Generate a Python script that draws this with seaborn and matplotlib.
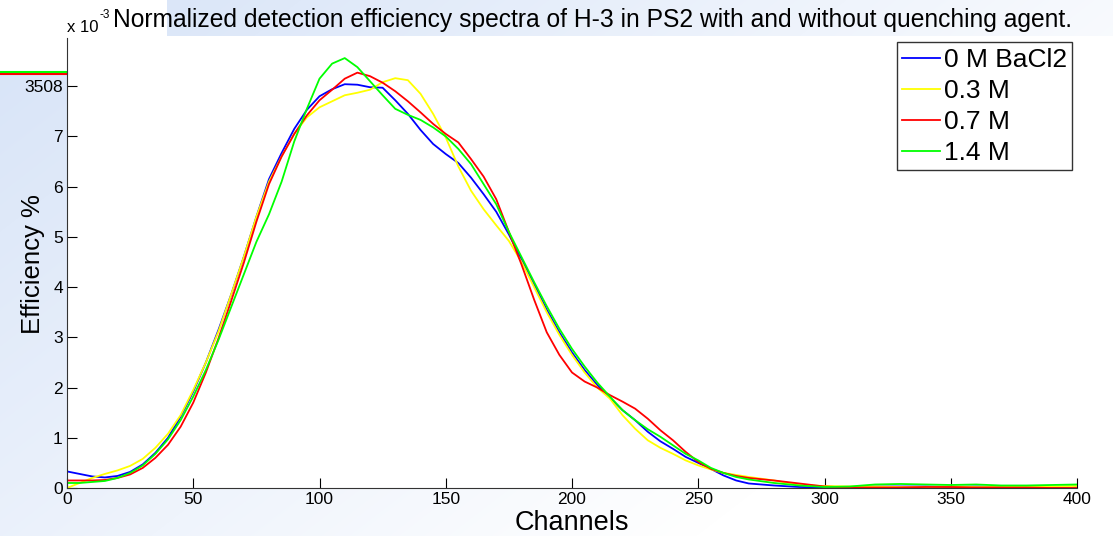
import matplotlib
matplotlib.use("Agg")
import matplotlib.pyplot as plt
import seaborn as sns
import numpy as np
import pandas as pd

# channel grid shared by all four spectra
channels = [0, 5, 10, 15, 20, 25, 30, 35, 40, 45, 50, 55, 60, 65, 70, 75, 80, 85, 90, 95,
            100, 105, 110, 115, 120, 125, 130, 135, 140, 145, 150, 155, 160, 165, 170, 175,
            180, 185, 190, 195, 200, 205, 210, 215, 220, 225, 230, 235, 240, 245, 250, 255,
            260, 265, 270, 280, 290, 300, 310, 320, 330, 340, 350, 360, 370, 380, 390, 400]

eff_0M = [0.33, 0.28, 0.23, 0.21, 0.24, 0.32, 0.47, 0.70, 1.00, 1.42, 1.92, 2.50, 3.15, 3.85,
          4.60, 5.40, 6.15, 6.67, 7.15, 7.53, 7.80, 7.94, 8.04, 8.03, 7.98, 7.97, 7.72, 7.45,
          7.13, 6.85, 6.65, 6.47, 6.18, 5.85, 5.50, 5.05, 4.55, 4.05, 3.55, 3.10, 2.70, 2.35,
          2.05, 1.80, 1.55, 1.35, 1.12, 0.93, 0.78, 0.62, 0.50, 0.38, 0.25, 0.15, 0.09, 0.05,
          0.02, 0.01, 0.02, 0.03, 0.03, 0.03, 0.02, 0.03, 0.02, 0.04, 0.02, 0.03]

eff_03M = [0.00, 0.10, 0.20, 0.28, 0.35, 0.44, 0.58, 0.80, 1.08, 1.45, 1.95, 2.50, 3.12, 3.85,
           4.60, 5.40, 6.10, 6.60, 7.05, 7.38, 7.58, 7.70, 7.82, 7.87, 7.93, 8.08, 8.16, 8.12,
           7.85, 7.45, 6.98, 6.40, 5.92, 5.55, 5.23, 4.92, 4.50, 4.00, 3.50, 3.05, 2.65, 2.30,
           2.00, 1.78, 1.45, 1.18, 0.95, 0.80, 0.68, 0.55, 0.45, 0.37, 0.30, 0.26, 0.22, 0.15,
           0.06, 0.04, 0.03, 0.03, 0.02, 0.02, 0.03, 0.02, 0.02, 0.03, 0.03, 0.04]

eff_07M = [0.15, 0.15, 0.15, 0.16, 0.20, 0.27, 0.40, 0.60, 0.86, 1.22, 1.70, 2.30, 2.98, 3.72,
           4.48, 5.30, 6.05, 6.60, 7.05, 7.42, 7.72, 7.93, 8.15, 8.27, 8.20, 8.07, 7.90, 7.70,
           7.48, 7.25, 7.05, 6.88, 6.55, 6.20, 5.75, 5.10, 4.45, 3.75, 3.10, 2.65, 2.30, 2.12,
           2.00, 1.85, 1.72, 1.58, 1.38, 1.15, 0.95, 0.72, 0.52, 0.38, 0.30, 0.24, 0.20, 0.15,
           0.09, 0.03, 0.01, 0.01, 0.01, 0.02, 0.02, 0.01, 0.01, 0.01, 0.00, 0.00]

eff_14M = [0.10, 0.10, 0.12, 0.14, 0.20, 0.30, 0.45, 0.68, 0.97, 1.35, 1.82, 2.35, 2.95, 3.60,
           4.25, 4.90, 5.45, 6.10, 6.90, 7.55, 8.15, 8.45, 8.56, 8.38, 8.10, 7.82, 7.55, 7.43,
           7.33, 7.18, 7.00, 6.75, 6.45, 6.05, 5.65, 5.10, 4.60, 4.10, 3.62, 3.17, 2.77, 2.42,
           2.10, 1.82, 1.55, 1.35, 1.17, 1.02, 0.85, 0.68, 0.55, 0.40, 0.30, 0.22, 0.17, 0.10,
           0.05, 0.02, 0.03, 0.07, 0.08, 0.07, 0.06, 0.07, 0.05, 0.05, 0.06, 0.07]

labels = ["0 M BaCl2", "0.3 M", "0.7 M", "1.4 M"]
colors = ["#0000ff", "#ffff00", "#ff0000", "#00ff00"]

# stray segment left of the axes in the original figure
stray_x = [-26.5, 0]
stray_red = [8.24, 8.24]
stray_green = [8.29, 8.29]

yticks = [0, 1, 2, 3, 4, 5, 6, 7, 8]
ytick_labels = ["0", "1", "2", "3", "4", "5", "6", "7", "3508"]
xticks = [0, 50, 100, 150, 200, 250, 300, 350, 400]

df = pd.concat([
    pd.DataFrame({"Channels": channels, "Efficiency": vals, "series": lab})
    for vals, lab in zip([eff_0M, eff_03M, eff_07M, eff_14M], labels)
])

plt.rcParams["font.family"] = ["Liberation Sans", "DejaVu Sans"]

W, H = 1113, 536
fig = plt.figure(figsize=(W / 100, H / 100), dpi=100)
fig.patch.set_facecolor("white")

# light blue background gradient (left strip, bottom strip, title band)
yy, xx = np.mgrid[0:H, 0:W]
t = np.clip(0.8 * xx / W + 0.5 * yy / H, 0, 1)[..., None]
base = np.array([0.84, 0.89, 0.97])
img = base * (1 - t) + t
white = ((xx >= 67) & (yy < 488) & ((yy >= 36) | (xx < 167))) | ((xx < 67) & (yy < 73))
img[white] = 1.0
bg = fig.add_axes([0, 0, 1, 1], zorder=-10)
bg.imshow(img, aspect="auto", interpolation="nearest")
bg.axis("off")

ax = fig.add_axes([67 / W, 48 / H, 1010 / W, 450 / H])
ax.set_facecolor("white")
sns.lineplot(data=df, x="Channels", y="Efficiency", hue="series", palette=colors,
             hue_order=labels, estimator=None, linewidth=1.3, legend=False, ax=ax)

ax.plot(stray_x, stray_red, color="#ff0000", lw=1.5, clip_on=False)
ax.plot(stray_x, stray_green, color="#00ff00", lw=1.5, clip_on=False)

ax.set_xlim(0, 400)
ax.set_ylim(0, 8.96)
ax.set_xticks(xticks)
ax.set_xticklabels([str(v) for v in xticks])
ax.set_yticks(yticks)
ax.set_yticklabels(ytick_labels)
ax.tick_params(direction="in", length=7, width=0.8, labelsize=12.5, pad=3)
for side in ["top", "right"]:
    ax.spines[side].set_visible(False)
for side in ["left", "bottom"]:
    ax.spines[side].set_linewidth(0.8)
    ax.spines[side].set_color("#333333")

ax.set_xlabel("Channels", fontsize=19.5, labelpad=2)
ax.set_ylabel("")
fig.text(33 / W, 1 - 264 / H, "Efficiency %", fontsize=18.5, rotation=90,
         ha="center", va="center")

leg = ax.legend(ax.get_lines()[:4], labels, loc="upper right", bbox_to_anchor=(0.995, 0.99),
                fontsize=19, frameon=True, fancybox=False, borderaxespad=0,
                handlelength=1.45, handletextpad=0.12, labelspacing=0.27, borderpad=0.2)
leg.get_frame().set_edgecolor("black")
leg.get_frame().set_linewidth(1.0)

fig.text(67 / W, 1 - 31.7 / H, "x 10", fontsize=12, va="baseline")
fig.text(100 / W, 1 - 18 / H, "-3", fontsize=8.5, va="baseline")
fig.text(113 / W, 1 - 27.3 / H,
         "Normalized detection efficiency spectra of H-3 in PS2 with and without quenching agent.",
         fontsize=17.7, va="baseline")

fig.savefig("out.png", dpi=100)
